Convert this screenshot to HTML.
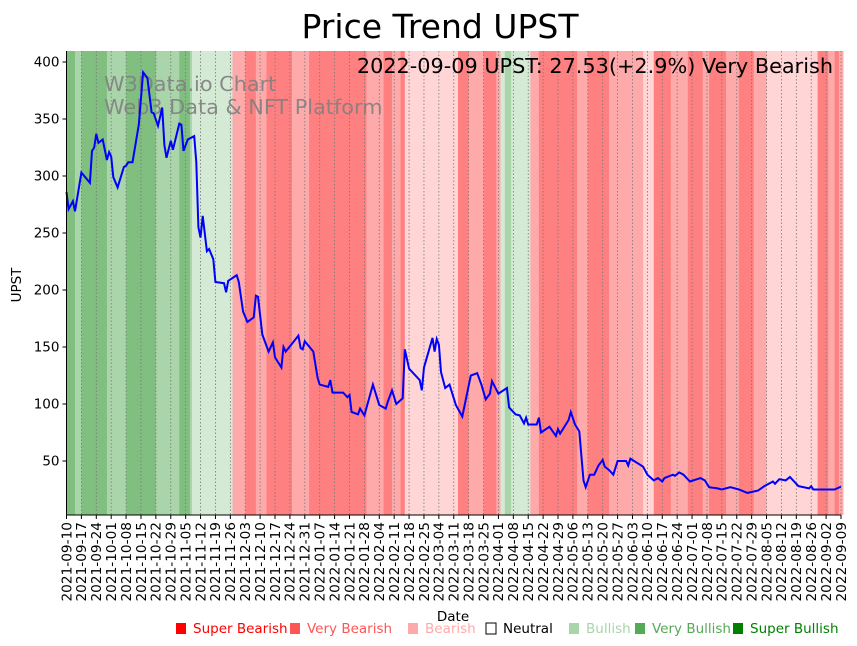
<!DOCTYPE html>
<html><head><meta charset="utf-8"><style>
body{margin:0;background:#fff;}
svg{display:block;font-family:"DejaVu Sans","Liberation Sans",sans-serif;}
</style></head><body>
<svg id="chart" width="857" height="646" viewBox="0 0 857 646">
<text x="440" y="38" font-size="33" text-anchor="middle">Price Trend UPST</text>
<g id="bands"></g>
<g id="grid"></g>
<g fill="#808080" font-size="20.8" opacity="0.9">
<text x="104" y="91">W3Data.io Chart</text>
<text x="104" y="114">Web3 Data &amp; NFT Platform</text>
</g>
<text x="833" y="73" font-size="20.8" text-anchor="end">2022-09-09 UPST: 27.53(+2.9%) Very Bearish</text>
<path id="priceLine" fill="none" stroke="#0000ff" stroke-width="2"/>
<g id="axes"></g>
<text x="453" y="621" font-size="13.5" text-anchor="middle">Date</text>
<text transform="translate(21,285) rotate(-90)" font-size="13.5" text-anchor="middle">UPST</text>
<g id="legend" font-size="13.5"></g>
</svg>
<script>
const days = [0,1,3,4,7,11,12,13,14,15,17,19,20,21,22,24,27,28,29,31,34,36,38,40,41,43,45,46,47,49,50,53,54,55,57,60,61,62,63,64,66,67,69,70,74,75,76,80,81,83,85,88,89,90,92,94,95,97,98,101,102,103,109,110,111,112,116,118,119,123,124,125,130,132,133,134,137,138,140,144,147,150,151,153,155,158,159,161,166,167,168,172,173,174,175,176,178,180,183,186,190,193,195,197,199,200,203,207,208,211,213,215,216,217,221,222,223,227,230,231,232,236,237,239,241,243,244,246,248,250,252,253,255,257,259,263,264,265,271,273,276,278,280,281,285,286,288,290,293,298,300,302,306,308,312,316,320,325,328,332,333,335,338,340,344,349,350,351,356,361,364];
const prices = [286,271,278,269,303,294,322,325,337,329,332,314,321,317,299,290,308,309,312,312,345,391,386,356,355,344,360,327,316,331,323,346,345,322,332,335,312,255,246,265,234,236,227,207,206,198,208,213,207,181,172,176,195,194,161,151,146,154,141,132,150,146,160,149,148,155,146,123,117,115,121,110,110,106,108,93,91,96,90,117,99,96,102,112,100,105,148,131,121,112,132,158,146,157,152,128,114,117,99,89,125,127,117,104,109,120,109,114,97,91,90,83,88,82,82,88,75,80,72,78,74,86,93,82,76,33,27,38,38,46,51,45,42,38,50,50,46,52,45,38,33,35,32,35,38,37,40,38,32,35,33,27,26,25,27,25,22,24,28,32,30,34,33,36,28,26,28,25,25,25,27.53];
const bandStarts = [0,4,7,19,28,42,53,58,59,78,84,89,94,106,114,141,149,153,157,159,184,189,196,202,204,206,209,218,222,240,245,255,271,276,284,292,299,302,310,316,323,329,353,358,361,363];
const bandEnds   = [4,7,19,28,42,53,58,59,78,84,89,94,106,114,141,149,153,157,159,184,189,196,202,204,206,209,218,222,240,245,255,271,276,284,292,299,302,310,316,323,329,353,358,361,363,365];
const bandLevels = ["vbull","bull","vbull","bull","vbull","bull","vbull","bull","pbull","bear","vbear","bear","vbear","bear","vbear","bear","vbear","bear","vbear","pbear","vbear","bear","vbear","bear","pbull","bull","pbull","bear","vbear","bear","vbear","bear","pbear","vbear","bear","vbear","bear","vbear","bear","vbear","bear","pbear","vbear","bear","vbear","bear"];
const yTicks = [50,100,150,200,250,300,350,400];
const xTickLabels = ["2021-09-10","2021-09-17","2021-09-24","2021-10-01","2021-10-08","2021-10-15","2021-10-22","2021-10-29","2021-11-05","2021-11-12","2021-11-19","2021-11-26","2021-12-03","2021-12-10","2021-12-17","2021-12-24","2021-12-31","2022-01-07","2022-01-14","2022-01-21","2022-01-28","2022-02-04","2022-02-11","2022-02-18","2022-02-25","2022-03-04","2022-03-11","2022-03-18","2022-03-25","2022-04-01","2022-04-08","2022-04-15","2022-04-22","2022-04-29","2022-05-06","2022-05-13","2022-05-20","2022-05-27","2022-06-03","2022-06-10","2022-06-17","2022-06-24","2022-07-01","2022-07-08","2022-07-15","2022-07-22","2022-07-29","2022-08-05","2022-08-12","2022-08-19","2022-08-26","2022-09-02","2022-09-09"];
const legendLabels = ["Super Bearish","Very Bearish","Bearish","Neutral","Bullish","Very Bullish","Super Bullish"];

const NS="http://www.w3.org/2000/svg";
const L=66.5,R=841,T=51,B=515;
const x=d=>L+d*(R-L)/364;
const y=v=>461-(v-50)*1.14;
const bandColor={vbull:"#80bf80",bull:"#aad4aa",pbull:"#d5ead5",vbear:"#ff8080",bear:"#ffaaaa",pbear:"#ffd5d5"};
function mk(tag,attrs,parent){const e=document.createElementNS(NS,tag);for(const k in attrs)e.setAttribute(k,attrs[k]);parent.appendChild(e);return e;}
const bands=document.getElementById('bands');
for(let i=0;i<bandStarts.length;i++){
  const r=mk('rect',{x:x(bandStarts[i]),y:T,width:Math.max(0,x(bandEnds[i])-x(bandStarts[i])+0.3),height:B-T,fill:bandColor[bandLevels[i]]},bands);
  
  
}
const grid=document.getElementById('grid');const axes=document.getElementById('axes');
xTickLabels.forEach((lab,i)=>{
  const xx=x(i*7);
  const g=mk('line',{x1:xx,x2:xx,y1:T,y2:B,stroke:"#777",'stroke-width':0.8,'stroke-dasharray':"1.5,2"},grid);
  
  
  mk('line',{x1:xx,x2:xx,y1:B,y2:B+4,stroke:"#000"},axes);
  const t=mk('text',{transform:`translate(${xx+4.8},${B+7}) rotate(-90)`,'font-size':13.7,'text-anchor':'end'},axes);
  t.textContent=lab;
  
  
});
yTicks.forEach(v=>{
  const yy=y(v);
  mk('line',{x1:L-4,x2:L,y1:yy,y2:yy,stroke:"#000"},axes);
  const t=mk('text',{x:L-7,y:yy+4.5,'font-size':13.5,'text-anchor':'end'},axes);
  t.textContent=v;
  
  
});
mk('line',{x1:L,x2:L,y1:T,y2:B,stroke:"#000",'stroke-width':1},axes);
mk('line',{x1:L,x2:R,y1:B,y2:B,stroke:"#000",'stroke-width':1},axes);
document.getElementById('priceLine').setAttribute('d',days.map((d,i)=>(i?'L':'M')+x(d).toFixed(1)+','+y(prices[i]).toFixed(1)).join(''));
const legColors=["#ff0000","#ff5555","#ffaaaa","#000","#aad4aa","#55aa55","#008000"];
const legX=[176,290,408,486,569,635,733];
const leg=document.getElementById('legend');
legendLabels.forEach((lab,i)=>{
  const sq=mk('rect',{x:legX[i],y:623,width:10,height:11,fill:i===3?"#fff":legColors[i],stroke:i===3?"#000":"none"},leg);
  
  
  const t=mk('text',{x:legX[i]+17,y:633,fill:legColors[i]},leg);
  t.textContent=lab;
  
  
});
</script>
</body></html>
